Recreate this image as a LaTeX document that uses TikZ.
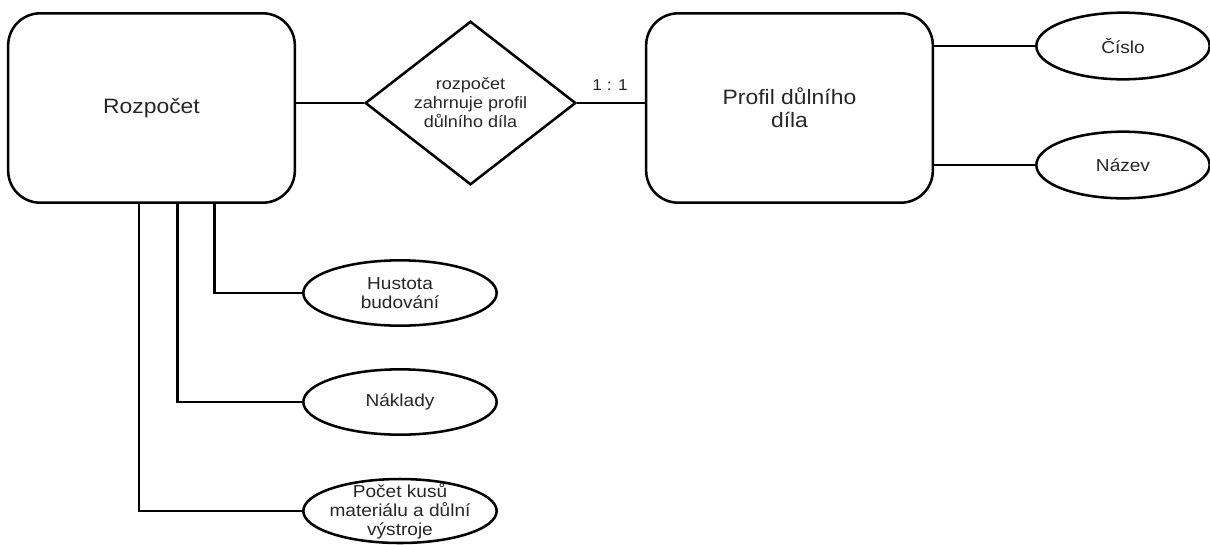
\documentclass[tikz,border=0pt]{standalone}
\usepackage{fontspec}
\setmainfont{Liberation Sans}[FakeStretch=1.1]
\usepackage{tikz}
\usetikzlibrary{shapes.geometric,calc}

\begin{document}
\begin{tikzpicture}[x=0.75pt,y=-0.75pt,line width=1.9pt,
    entity/.style={draw,rounded corners=24pt,minimum width=215pt,minimum height=142pt,align=center,text=black!85,font=\fontsize{15.6}{17.5}\selectfont},
    relation/.style={draw,diamond,inner sep=0pt,minimum width=158pt,minimum height=106pt,align=center,text=black!85,font=\fontsize{12.3}{14.3}\selectfont},
    attrib/.style={draw,ellipse,inner xsep=-6pt,inner ysep=-14pt,minimum width=145pt,minimum height=49pt,align=center,text=black!85,font=\fontsize{13}{14.4}\selectfont}]
            \useasboundingbox (0,0) rectangle (1210,544);
            \node [entity] (rozpocet) at (151.5,108) {Rozpočet};
            \node [relation] (zahrnuje) at (470.5,103) {rozpočet\\zahrnuje profil\\důlního díla};
            \node [entity] (profil) at (789.5,108) {Profil důlního\\díla};
            \node [text=black!85,font=\fontsize{11.8}{13}\selectfont] (kard) at (610,85) {1 : 1};
            \node [attrib,minimum width=130pt,minimum height=50pt] (cislo) at (1123,46) {Číslo};
            \node [attrib,minimum width=130pt,minimum height=50pt] (nazev) at (1123,165) {Název};
            \node [attrib] (hustota) at (400,293) {Hustota\\budování};
            \node [attrib] (naklady) at (400,402) {Náklady};
            \node [attrib,minimum height=48pt] (pocet) at (400,511) {Počet kusů\\materiálu a důlní\\výstroje};
            % spojnice
            \draw (rozpocet.east |- zahrnuje.west) -- (zahrnuje.west);
            \draw (zahrnuje.east) -- (zahrnuje.east -| profil.west);
            \draw (profil.east |- cislo.west) -- (cislo.west);
            \draw (profil.east |- nazev.west) -- (nazev.west);
            \draw ($(rozpocet.south west)!0.718!(rozpocet.south east)$) |- (hustota.west);
            \draw ($(rozpocet.south west)!0.589!(rozpocet.south east)$) |- (naklady.west);
            \draw ($(rozpocet.south west)!0.456!(rozpocet.south east)$) |- (pocet.west);
\end{tikzpicture}
\end{document}
